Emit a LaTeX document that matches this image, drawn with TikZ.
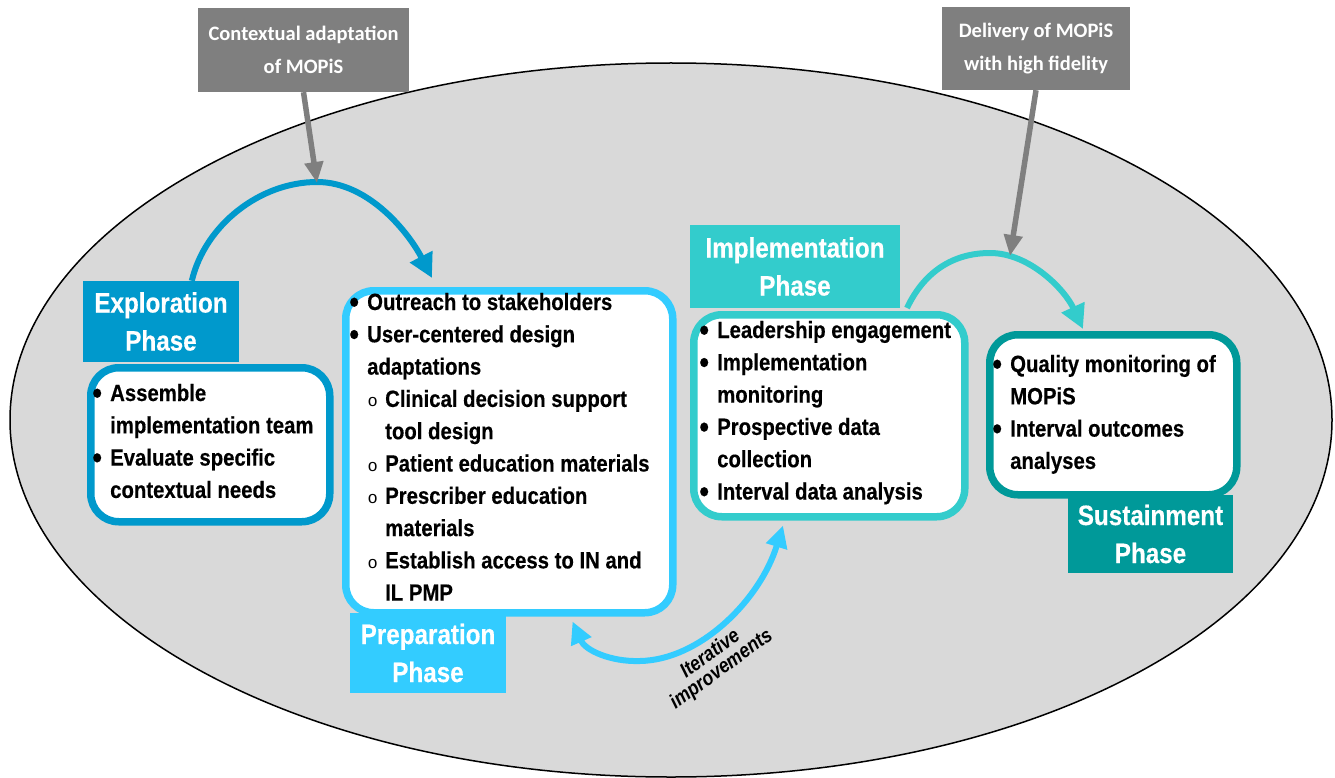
\documentclass[tikz,border=0pt]{standalone}
\usepackage{fontspec}
\setmainfont{Liberation Sans}
\newfontfamily\narrowfont[FakeStretch=0.865, BoldFeatures={FakeBold=0.35}]{Liberation Sans}
\newfontfamily\calfont{Carlito}
\newfontfamily\circfont{Liberation Mono}
\usetikzlibrary{arrows.meta,calc}

\definecolor{explcol}{RGB}{0,153,204}
\definecolor{prepcol}{RGB}{51,204,255}
\definecolor{implcol}{RGB}{51,204,204}
\definecolor{sustcol}{RGB}{0,153,153}
\definecolor{ovalfill}{RGB}{217,217,217}
\definecolor{notecol}{RGB}{127,127,127}

% bullet and sub-bullet helpers for the phase lists
\newcommand{\pbul}{\makebox[20.3pt][l]{\hspace*{2.5pt}\raisebox{-2.7pt}{\scalebox{1.35}{\textbullet}}}}
\newcommand{\pcont}{\hspace*{20.3pt}}
\newcommand{\psub}{\hspace*{20.3pt}\makebox[18pt][l]{\hspace*{0.5pt}{\circfont\mdseries\fontsize{17}{17}\selectfont o}}}
\newcommand{\psubcont}{\hspace*{38.3pt}}

\tikzset{
  phasebox/.style={draw=#1, line width=7.5pt, fill=white, rounded corners=28pt,
    inner sep=0pt, anchor=north west},
  phaselabel/.style={fill=#1, inner sep=0pt, text=white, align=center,
    font=\narrowfont\bfseries\fontsize{28}{38}\selectfont},
  listtext/.style={anchor=base west, inner sep=0pt,
    font=\narrowfont\bfseries\fontsize{23.5}{32.3}\selectfont},
  notebox/.style={fill=notecol, inner sep=0pt, text=white, align=center,
    font=\calfont\bfseries\fontsize{20.5}{33}\selectfont},
  flow/.style={draw=#1, line width=6pt, -{Triangle[length=24pt,width=24pt]}},
  loopflow/.style={draw=#1, line width=6pt,
    {Triangle[length=22pt,width=21pt]}-{Triangle[length=22pt,width=21pt]}},
  noteflow/.style={draw=notecol, line width=5.5pt, -{Triangle[length=21pt,width=18pt]}},
}

\begin{document}
\begin{tikzpicture}[x=1pt,y=-1pt]
\useasboundingbox (0,0) rectangle (1335,778);

% background oval
\draw[line width=1.5pt, fill=ovalfill] (671,420) ellipse [x radius=661pt, y radius=357pt];

% phase content boxes
\node[phasebox=explcol, minimum width=239pt, minimum height=154pt] (explbox) at (87,364) {};
\node[phasebox=prepcol, minimum width=327pt, minimum height=322pt] (prepbox) at (342,287) {};
\node[phasebox=implcol, minimum width=271pt, minimum height=202pt] (implbox) at (690,311) {};
\node[phasebox=sustcol, minimum width=247pt, minimum height=160pt] (sustbox) at (986,331) {};

% phase labels
\node[phaselabel=explcol, minimum width=156pt, minimum height=81pt] (expllab) at (161,321.5) {Exploration\\Phase};
\node[phaselabel=prepcol, minimum width=156pt, minimum height=80pt] (preplab) at (428,653) {Preparation\\Phase};
\node[phaselabel=implcol, minimum width=210pt, minimum height=83pt] (impllab) at (795,266.5) {Implementation\\Phase};
\node[phaselabel=sustcol, minimum width=165pt, minimum height=78pt] (sustlab) at (1150.5,534) {Sustainment\\Phase};

% list contents
\node[listtext] (expltext) at (89.7,401) {\begin{tabular}[t]{@{}l@{}}
\pbul Assemble\\
\pcont implementation team\\
\pbul Evaluate specific\\
\pcont contextual needs
\end{tabular}};

\node[listtext] (preptext) at (346.7,310) {\begin{tabular}[t]{@{}l@{}}
\pbul Outreach to stakeholders\\
\pbul User-centered design\\
\pcont adaptations\\
\psub Clinical decision support\\
\psubcont tool design\\
\psub Patient education materials\\
\psub Prescriber education\\
\psubcont materials\\
\psub Establish access to IN and\\
\psubcont IL PMP
\end{tabular}};

\node[listtext] (impltext) at (696.7,338) {\begin{tabular}[t]{@{}l@{}}
\pbul Leadership engagement\\
\pbul Implementation\\
\pcont monitoring\\
\pbul Prospective data\\
\pcont collection\\
\pbul Interval data analysis
\end{tabular}};

\node[listtext] (susttext) at (989.7,372) {\begin{tabular}[t]{@{}l@{}}
\pbul Quality monitoring of\\
\pcont MOPiS\\
\pbul Interval outcomes\\
\pcont analyses
\end{tabular}};

% notes above the oval
\node[notebox, minimum width=211pt, minimum height=84pt] (note1) at (303.5,50) {Contextual adaptation\\of MOPiS};
\node[notebox, minimum width=188pt, minimum height=83pt] (note2) at (1036,48.5) {Delivery of MOPiS\\with high fidelity};

% transitions between phases
\coordinate (peak1) at (317,182);
\coordinate (peak2) at (990,253);
\coordinate (hit2) at (1010,256);
\draw[flow=explcol] ($(expllab.north west)+(109,0)$)
  .. controls (205,225) and (260,182) .. (peak1)
  .. controls (370,182) and (410,235) .. ($(prepbox.north west)+(90,-9)$);
\draw[flow=implcol] ($(implbox.north west)+(217,-3)$)
  .. controls (925,270) and (955,253) .. (peak2)
  .. controls (1030,253) and (1065,290) .. ($(sustbox.north west)+(97,-2)$);

% iterative loop between preparation and implementation
\coordinate (loopbot) at (640,661);
\draw[loopflow=prepcol] ($(prepbox.south east)+(-104,5)$)
  .. controls (585,650) and (610,662) .. (loopbot)
  .. controls (700,660) and (760,600) .. ($(implbox.south west)+(93,5)$);
\node[rotate=36, align=center, inner sep=0pt,
  font=\narrowfont\bfseries\itshape\fontsize{20.5}{19}\selectfont] (iterlab) at (716,662)
  {Iterative\\improvements};

% note arrows
\draw[noteflow] (note1.south) -- ($(peak1)+(0,1)$);
\draw[noteflow] (note2.south) -- (hit2);
\end{tikzpicture}
\end{document}
